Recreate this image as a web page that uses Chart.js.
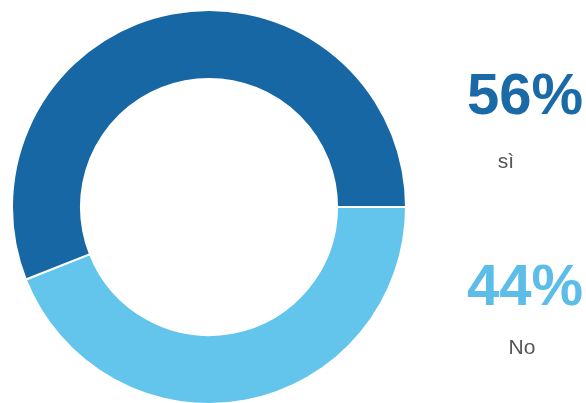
<!DOCTYPE html>
<html lang="it">
<head>
  <meta charset="UTF-8">
  <title>Sì / No</title>
  <style>
    html, body{
      margin: 0;
      padding: 0;
      background: #fff;
      overflow: hidden;
    }
    .canvas-con{
      width: 586px;
      height: 410px;
    }
  </style>
</head>
<body>
  <div class="canvas-con">
    <canvas id="myChart"></canvas>
  </div>

  <script src="https://cdn.jsdelivr.net/npm/chart.js"></script>
  <script>
  // data, clockwise from 3 o'clock
  const labels = ['No', 'sì']
  const values = [44, 56]
  const sliceColors = ['#63c4ec', '#1767a5']
  const textColors = ['#5cbde9', '#1a6aa8']

  // text on the right side, listed top to bottom (sì first)
  const textOrder = [1, 0]
  const pctY = [114, 305]
  const labelY = [168, 354]
  const labelX = [506, 522]

  const sideText = {
    id: 'side_text',
    afterDraw: (chart) => {
      const ctx = chart.ctx
      ctx.save()
      ctx.textAlign = 'center'
      ctx.textBaseline = 'alphabetic'
      textOrder.forEach((i, row) => {
        ctx.fillStyle = textColors[i]
        ctx.font = 'bold 58px "Liberation Sans", Arial, sans-serif'
        ctx.fillText(values[i] + '%', 525, pctY[row])
        ctx.fillStyle = '#555'
        ctx.font = '21px "Liberation Sans", Arial, sans-serif'
        ctx.fillText(labels[i], labelX[row], labelY[row])
      })
      ctx.restore()
    }
  }

  let myChart = new Chart(document.getElementById('myChart'), {
    type: 'doughnut',
    data: {
      labels: labels,
      datasets: [{
        data: values,
        backgroundColor: sliceColors,
        borderColor: '#fff',
        borderWidth: 2
      }]
    },
    plugins: [sideText],
    options: {
      responsive: true,
      maintainAspectRatio: false,
      animation: false,
      rotation: 90,
      cutout: '65%',
      layout: {
        padding: {left: 11, right: 179, top: 9, bottom: 5}
      },
      plugins: {
        legend: {display: false},
        tooltip: {enabled: false}
      }
    }
  })
  </script>
</body>
</html>
